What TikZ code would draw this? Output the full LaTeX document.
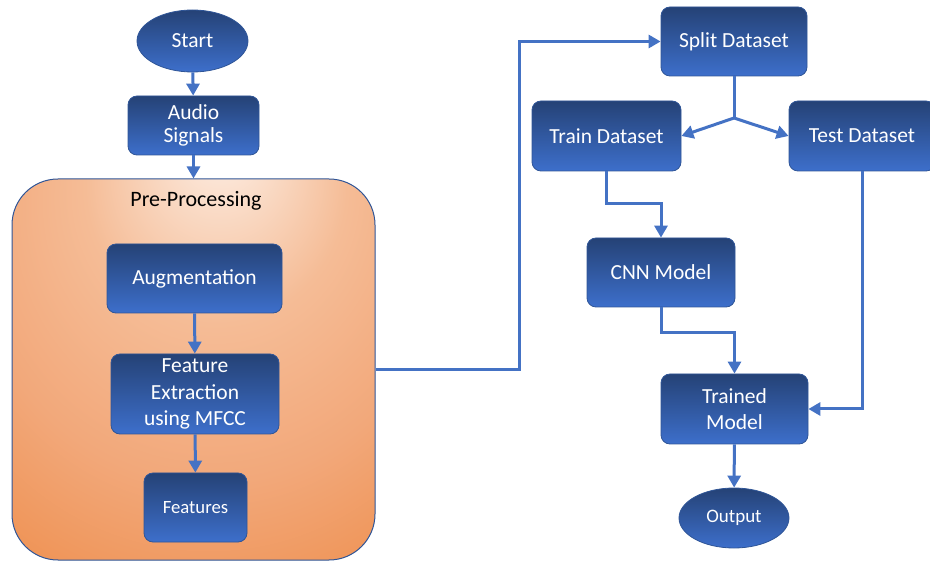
\documentclass[tikz,border=0pt]{standalone}
\usepackage{fontspec}
\setmainfont{Carlito}
\usetikzlibrary{arrows.meta,shapes.geometric}
\definecolor{bluetop}{HTML}{254276}
\definecolor{bluebot}{HTML}{3D6FCB}
\definecolor{boxborder}{HTML}{2F5597}
\definecolor{conn}{HTML}{4472C4}
\definecolor{peachA}{HTML}{FDF1E9}
\definecolor{peachB}{HTML}{FADCC8}
\definecolor{peachC}{HTML}{F5BC96}
\definecolor{peachD}{HTML}{F2A87A}
\definecolor{peachE}{HTML}{EF9355}
\definecolor{orangeD}{HTML}{ED7D31}
\pgfdeclareradialshading{peachshade}{\pgfpoint{4bp}{31bp}}{%
  color(0bp)=(peachA); color(7bp)=(peachB); color(18bp)=(peachC); color(33bp)=(peachD);
  color(46bp)=(peachE); color(60bp)=(orangeD); color(80bp)=(orangeD)}
\tikzset{
  bbox/.style={rectangle, rounded corners=9pt, draw=boxborder, line width=0.8pt,
    top color=bluetop, bottom color=bluebot, text=white, align=center,
    inner sep=0pt, font=\fontsize{21.5}{26.5}\selectfont},
  oval/.style={ellipse, draw=boxborder, line width=0.8pt,
    top color=bluetop, bottom color=bluebot, text=white, inner sep=0pt},
  arr/.style={draw=conn, line width=3pt, -{Triangle[length=12pt,width=13pt]}},
  ln/.style={draw=conn, line width=3pt}
}
\begin{document}
\begin{tikzpicture}[x=1pt,y=-1pt]
\useasboundingbox (0,0) rectangle (930,561);
% container
\node[rectangle, rounded corners=46pt, draw=boxborder, line width=1pt, shading=peachshade,
  minimum width=363pt, minimum height=381pt, inner sep=0pt] (pre) at (193.5,369.5) {};
\node[font=\fontsize{22}{26}\selectfont, text=black] (pretitle) at (196,201) {Pre-Processing};
% left nodes
\node[oval, minimum width=111pt, minimum height=62pt, font=\fontsize{21.5}{26}\selectfont] (start) at (192.5,41) {Start};
\node[bbox, minimum width=131pt, minimum height=59pt, font=\fontsize{21.5}{23}\selectfont] (audio) at (193.5,125.5) {Audio\\Signals};
\node[bbox, minimum width=175pt, minimum height=69pt] (aug) at (194.5,278.5) {Augmentation};
\node[bbox, minimum width=168pt, minimum height=80pt] (fe) at (195,394) {Feature\\Extraction\\using MFCC};
\node[bbox, minimum width=103pt, minimum height=69pt, font=\fontsize{18.7}{22}\selectfont] (feat) at (195.5,507.5) {Features};
% right nodes
\node[bbox, minimum width=146pt, minimum height=69pt] (split) at (734,41.5) {Split Dataset};
\node[bbox, minimum width=149pt, minimum height=70pt] (train) at (606.5,136) {Train Dataset};
\node[bbox, minimum width=146pt, minimum height=70pt] (test) at (862,136) {Test Dataset};
\node[bbox, minimum width=148pt, minimum height=69pt] (cnn) at (661,272.5) {CNN Model};
\node[bbox, minimum width=147pt, minimum height=70pt] (trained) at (734.5,409) {Trained\\Model};
\node[oval, minimum width=110pt, minimum height=60pt, font=\fontsize{19}{22}\selectfont] (out) at (734,518) {Output};
% connectors
\draw[arr] (start) -- (audio);
\draw[arr] (audio.south) -- (pre.north);
\draw[arr] (aug) -- (fe);
\draw[arr] (fe) -- (feat);
\coordinate (c1) at (519,369.5);
\draw[arr] (pre.east) -- (c1) |- (split.west);
\coordinate (br) at (734,118);
\draw[ln] (split.south) -- (br);
\draw[arr] (br) -- (train.east);
\draw[arr] (br) -- (test.west);
\coordinate (k1) at (661,204);
\draw[arr] (train.south) |- (k1) -- (cnn.north);
\coordinate (k2) at (734.5,333);
\draw[arr] (cnn.south) |- (k2) -- (trained.north);
\draw[arr] (test.south) |- (trained.east);
\draw[arr] (trained) -- (out);
\end{tikzpicture}
\end{document}
